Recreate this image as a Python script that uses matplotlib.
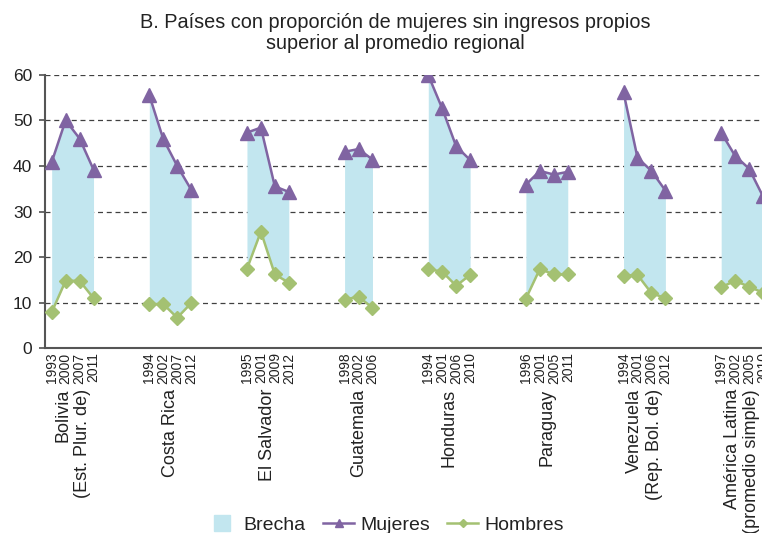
import matplotlib
matplotlib.use("Agg")
import matplotlib.pyplot as plt
from matplotlib.lines import Line2D
import numpy as np

plt.rcParams['font.family'] = ['Liberation Sans', 'DejaVu Sans']

countries = ["Bolivia\n(Est. Plur. de)", "Costa Rica", "El Salvador", "Guatemala",
             "Honduras", "Paraguay", "Venezuela\n(Rep. Bol. de)",
             "América Latina\n(promedio simple)"]
years = [[1993, 2000, 2007, 2011], [1994, 2002, 2007, 2012], [1995, 2001, 2009, 2012],
         [1998, 2002, 2006], [1994, 2001, 2006, 2010], [1996, 2001, 2005, 2011],
         [1994, 2001, 2006, 2012], [1997, 2002, 2005, 2010]]
mujeres = [[40.8, 50.0, 46.0, 39.2], [55.5, 45.9, 40.0, 34.8], [47.3, 48.4, 35.5, 34.3],
           [43.1, 43.7, 41.4], [59.9, 52.6, 44.3, 41.3], [35.9, 38.9, 38.1, 38.7],
           [56.1, 41.8, 38.9, 34.6], [47.3, 42.2, 39.4, 33.3]]
hombres = [[7.9, 14.8, 14.8, 11.0], [9.7, 9.7, 6.7, 9.9], [17.4, 25.6, 16.2, 14.4],
           [10.7, 11.3, 8.9], [17.4, 16.8, 13.7, 16.1], [10.9, 17.4, 16.2, 16.2],
           [15.9, 16.1, 12.1, 11.0], [13.4, 14.8, 13.5, 12.2]]
yticks = [0, 10, 20, 30, 40, 50, 60]

GAP = 3
C_FILL = '#C2E6EF'
C_MUJ = '#8064A2'
C_HOM = '#A4C172'

fig = plt.figure(figsize=(7.62, 5.33), dpi=100)
W, H = 762, 533
x0_px, x1_px = 44.7, 770.0
ybot_px, ytop_px = 348.3, 74.7
ax = fig.add_axes([x0_px / W, 1 - ybot_px / H, (x1_px - x0_px) / W, (ybot_px - ytop_px) / H])

tick_pos, tick_lab, centers = [], [], []
start = 0
for c, yr, m, h in zip(countries, years, mujeres, hombres):
    xs = np.arange(start, start + len(yr))
    ax.fill_between(xs, h, m, color=C_FILL, lw=0, zorder=1)
    ax.plot(xs, m, color=C_MUJ, lw=1.8, marker='^', ms=9.5, zorder=3)
    ax.plot(xs, h, color=C_HOM, lw=1.8, marker='D', ms=7, zorder=3)
    tick_pos += list(xs)
    tick_lab += [str(v) for v in yr]
    centers.append((xs[0] + xs[-1]) / 2)
    start += len(yr) + GAP

ax.set_xlim(-0.5, 51.5)
ax.set_ylim(0, 60)
ax.set_yticks(yticks)
ax.yaxis.grid(True, ls=(0, (4, 3)), color='#404040', lw=0.9)
ax.set_axisbelow(True)
ax.tick_params(axis='y', labelsize=12.5, length=4, width=1.2, color='#505050', pad=5, labelcolor='#222222')
ax.set_xticks(tick_pos)
ax.set_xticklabels(tick_lab, rotation=90, fontsize=10, color='#222222')
ax.tick_params(axis='x', length=0, pad=3)
for s in ['top', 'right']:
    ax.spines[s].set_visible(False)
for s in ['left', 'bottom']:
    ax.spines[s].set_color('#555555')
    ax.spines[s].set_linewidth(1.5)

trans = matplotlib.transforms.blended_transform_factory(ax.transData, fig.transFigure)
for cx, c in zip(centers, countries):
    ax.text(cx, 1 - 389 / H, c, transform=trans, rotation=90, ha='center', va='top',
            multialignment='right', fontsize=13, color='#222222', linespacing=1.2,
            clip_on=False)

fig.text(395 / W, 1 - 33 / H,
         "B. Países con proporción de mujeres sin ingresos propios\nsuperior al promedio regional",
         ha='center', va='center', fontsize=14.3, color='#222222', linespacing=1.1)

handles = [Line2D([], [], ls='none', marker='s', ms=11, color=C_FILL),
           Line2D([], [], color=C_MUJ, lw=1.8, marker='^', ms=6),
           Line2D([], [], color=C_HOM, lw=1.8, marker='D', ms=4.5)]
fig.legend(handles, ['Brecha', 'Mujeres', 'Hombres'], loc='center',
           bbox_to_anchor=(385 / W, 1 - 525 / H), ncol=3, frameon=False,
           fontsize=14, handlelength=1.6, handletextpad=0.3, columnspacing=0.9,
           labelcolor='#222222')

fig.savefig('out.png', dpi=100)
